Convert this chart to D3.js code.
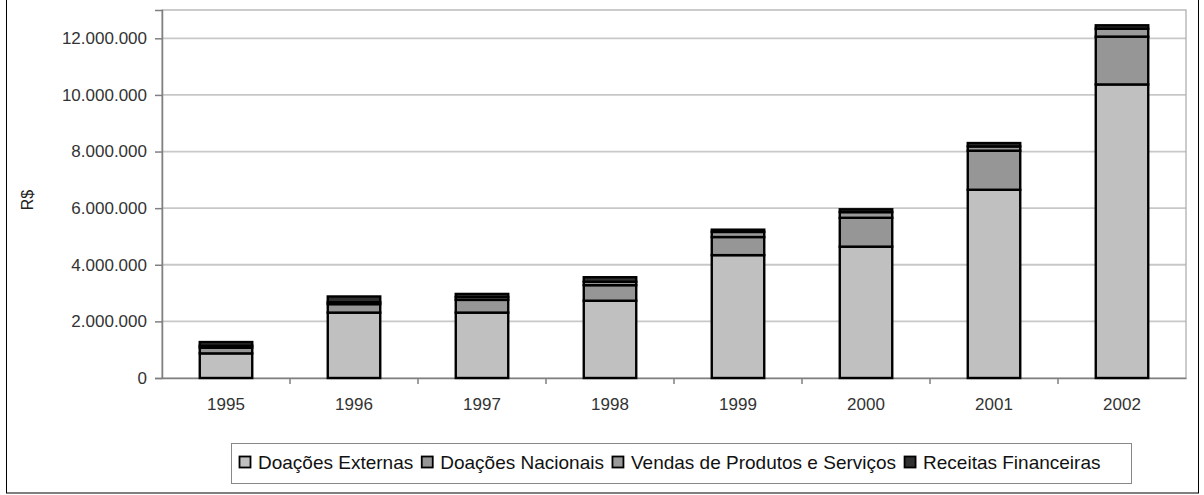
<!DOCTYPE html>
<meta charset="utf-8">
<style>
  body { margin: 0; background: #fff; }
  text { font-family: "Liberation Sans", Arial, sans-serif; }
</style>
<script src="https://d3js.org/d3.v7.min.js"></script>
<div id="chart"></div>
<script>
// data (R$)
var years = ["1995", "1996", "1997", "1998", "1999", "2000", "2001", "2002"];
var seriesNames = ["Doações Externas", "Doações Nacionais", "Vendas de Produtos e Serviços", "Receitas Financeiras"];
var doacoesExternas = [870000, 2310000, 2310000, 2730000, 4340000, 4640000, 6650000, 10370000];
var doacoesNacionais = [200000, 300000, 450000, 550000, 640000, 1020000, 1380000, 1690000];
var vendas = [70000, 70000, 100000, 120000, 180000, 200000, 150000, 280000];
var receitas = [130000, 200000, 110000, 160000, 80000, 100000, 120000, 120000];
var yTicks = [0, 2000000, 4000000, 6000000, 8000000, 10000000, 12000000];

var colors = ["#c0c0c0", "#969696", "#9a9a9a", "#303030"];

var W = 1204, H = 495;
var margin = {top: 10, left: 162, right: 18, bottom: 117};
var width = W - margin.left - margin.right,
    height = H - margin.top - margin.bottom;

var svg = d3.select("#chart").append("svg")
    .attr("width", W)
    .attr("height", H);

// outer chart frame
svg.append("rect")
    .attr("x", 6.5).attr("y", -1)
    .attr("width", 1192).attr("height", 494)
    .attr("fill", "none").attr("stroke", "#000").attr("stroke-width", 1);

var g = svg.append("g")
    .attr("transform", "translate(" + margin.left + "," + margin.top + ")");

var x = d3.scaleBand()
    .domain(years)
    .range([0, width])
    .paddingInner(0.59)
    .paddingOuter(0.295);

var y = d3.scaleLinear()
    .domain([0, 13000000])
    .range([height, 0]);

var loc = d3.formatLocale({decimal: ",", thousands: ".", grouping: [3], currency: ["R$", ""]});
var fmt = loc.format(",.0f");

// gridlines
g.append("g")
    .selectAll("line")
    .data(yTicks.slice(1))
    .enter().append("line")
    .attr("x1", 0).attr("x2", width)
    .attr("y1", function (d) { return y(d); })
    .attr("y2", function (d) { return y(d); })
    .attr("stroke", "#c8c8c8")
    .attr("stroke-width", 1.8);

// plot frame
g.append("rect")
    .attr("x", 0).attr("y", 0)
    .attr("width", width).attr("height", height)
    .attr("fill", "none").attr("stroke", "#a8a8a8").attr("stroke-width", 1.2);

// y axis
var yAxis = g.append("g")
    .call(d3.axisLeft(y).tickValues(yTicks).tickFormat(fmt).tickSize(7).tickPadding(8));
yAxis.select(".domain").attr("stroke", "#808080").attr("stroke-width", 1.5);
yAxis.selectAll(".tick line").attr("stroke", "#808080").attr("stroke-width", 1.5);
yAxis.selectAll("text")
    .attr("font-size", 17)
    .attr("fill", "#333")
    .style("font-family", "Liberation Sans, Arial, sans-serif");

// x axis
var xAxis = g.append("g")
    .attr("transform", "translate(0," + height + ")")
    .call(d3.axisBottom(x).tickSize(0).tickPadding(20));
xAxis.select(".domain").attr("stroke", "#808080").attr("stroke-width", 1.5);
xAxis.selectAll("text")
    .attr("font-size", 17)
    .attr("fill", "#333")
    .style("font-family", "Liberation Sans, Arial, sans-serif");

// small ticks between categories
g.append("g")
    .selectAll("line")
    .data(years.slice(1))
    .enter().append("line")
    .attr("x1", function (d) { return x(d) - x.step() * x.paddingInner() / 2; })
    .attr("x2", function (d) { return x(d) - x.step() * x.paddingInner() / 2; })
    .attr("y1", height).attr("y2", height + 6)
    .attr("stroke", "#808080").attr("stroke-width", 1.5);

// stacked bars
var table = years.map(function (yr, i) {
    return {year: yr, a: doacoesExternas[i], b: doacoesNacionais[i], c: vendas[i], d: receitas[i]};
});
var stack = d3.stack().keys(["a", "b", "c", "d"]);
var layers = stack(table);

g.append("g")
    .selectAll("g")
    .data(layers)
    .enter().append("g")
    .attr("fill", function (d, i) { return colors[i]; })
    .selectAll("rect")
    .data(function (d) { return d; })
    .enter().append("rect")
    .attr("x", function (d) { return x(d.data.year); })
    .attr("y", function (d) { return y(d[1]); })
    .attr("height", function (d) { return y(d[0]) - y(d[1]); })
    .attr("width", x.bandwidth())
    .attr("stroke", "#000")
    .attr("stroke-width", 2.4);

// y label
svg.append("text")
    .attr("transform", "translate(33,200) rotate(-90)")
    .attr("text-anchor", "middle")
    .attr("font-size", 16)
    .attr("fill", "#222")
    .text("R$");

// legend
var legend = svg.append("g").attr("transform", "translate(231,443)");
legend.append("rect")
    .attr("x", 0.5).attr("y", 0.5)
    .attr("width", 900).attr("height", 40)
    .attr("fill", "#fff").attr("stroke", "#888").attr("stroke-width", 1);

var lx = 8;
seriesNames.forEach(function (name, i) {
    var item = legend.append("g").attr("transform", "translate(" + lx + ",0)");
    item.append("rect")
        .attr("x", 0.5).attr("y", 13.5)
        .attr("width", 11).attr("height", 11)
        .attr("fill", colors[i])
        .attr("stroke", "#000").attr("stroke-width", 1.8);
    var t = item.append("text")
        .attr("x", 19).attr("y", 26)
        .attr("font-size", 19)
        .attr("fill", "#111")
        .text(name);
    lx += 19 + t.node().getComputedTextLength() + 8;
});
</script>
<body>
</body>
